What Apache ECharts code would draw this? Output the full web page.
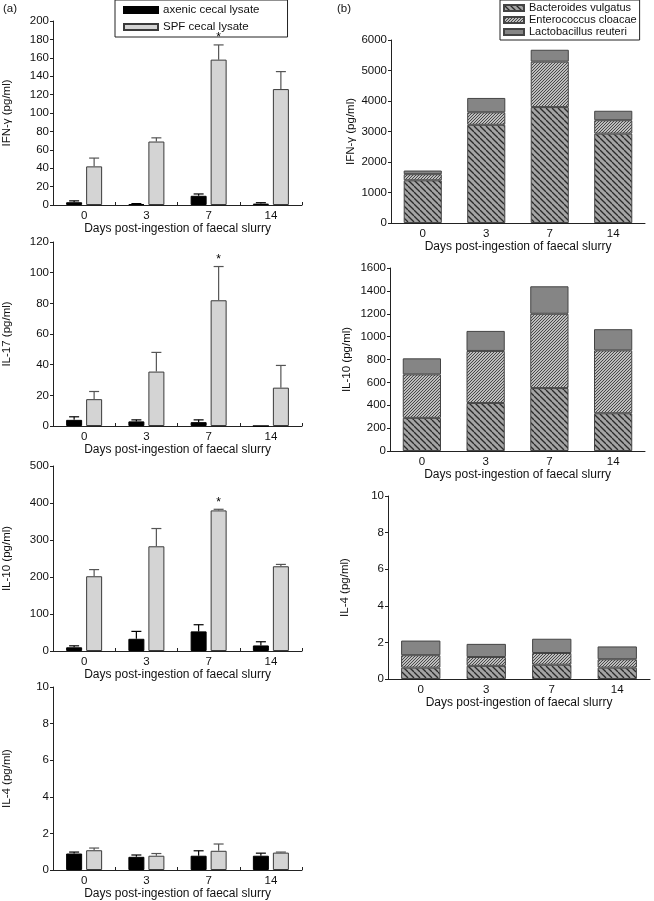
<!DOCTYPE html>
<html>
<head>
<meta charset="utf-8">
<script src="https://cdn.jsdelivr.net/npm/echarts@6/dist/echarts.min.js"></script>
<style>
  html, body { margin: 0; padding: 0; background: #fff; }
  #chart { width: 654px; height: 901px; }
</style>
</head>
<body>
<div id="chart"></div>
<script>
const days = ['0', '3', '7', '14'];
const xTitle = 'Days post-ingestion of faecal slurry';

// (a) group means and top of error bar
const ifnAxenic = [3, 1, 10, 1.5];
const ifnAxenicErr = [4.5, 1.5, 12, 2.5];
const ifnSpf = [42, 69, 158, 126];
const ifnSpfErr = [51, 73, 174, 145];
const il17Axenic = [4, 3, 2.5, 0];
const il17AxenicErr = [6, 4, 4, 0];
const il17Spf = [17.5, 35.5, 82, 25];
const il17SpfErr = [22.5, 48, 104, 39.5];
const il10Axenic = [10, 33, 53, 15];
const il10AxenicErr = [14, 53, 71, 25];
const il10Spf = [202, 283, 380, 229];
const il10SpfErr = [220, 331, 383, 234];
const il4Axenic = [0.9, 0.72, 0.78, 0.78];
const il4AxenicErr = [0.98, 0.82, 1.05, 0.92];
const il4Spf = [1.08, 0.78, 1.05, 0.95];
const il4SpfErr = [1.2, 0.9, 1.42, 0.98];
const starIfn = [0, 0, 1, 0];
const starIl17 = [0, 0, 1, 0];
const starIl10 = [0, 0, 1, 0];
const starIl4 = [0, 0, 0, 0];

// (b) stacked contributions
const bIfnBv = [1400, 3220, 3800, 2930];
const bIfnEc = [200, 410, 1490, 440];
const bIfnLr = [120, 470, 390, 310];
const bIl10Bv = [290, 420, 550, 330];
const bIl10Ec = [380, 455, 650, 550];
const bIl10Lr = [140, 175, 240, 185];
const bIl4Bv = [0.62, 0.72, 0.78, 0.62];
const bIl4Ec = [0.68, 0.48, 0.64, 0.46];
const bIl4Lr = [0.8, 0.72, 0.78, 0.7];

const FONT = 'Liberation Sans, Arial, sans-serif';

// hatch fills
function hatch(size, bg, fg, width, back) {
  const c = document.createElement('canvas');
  c.width = size; c.height = size;
  const g = c.getContext('2d');
  g.fillStyle = bg; g.fillRect(0, 0, size, size);
  g.strokeStyle = fg; g.lineWidth = width;
  for (let k = -size; k <= size; k += size) {
    g.beginPath();
    if (back) { g.moveTo(k, 0); g.lineTo(k + size, size); }
    else { g.moveTo(k, size); g.lineTo(k + size, 0); }
    g.stroke();
  }
  return { image: c, repeat: 'repeat' };
}
const fillBv = hatch(6, '#a4a4a4', '#2a2a2a', 1.3, true);
const fillEc = hatch(3, '#bdbdbd', '#3c3c3c', 0.9, false);
const fillLr = '#858585';

const chart = echarts.init(document.getElementById('chart'));

const grids = [
  { left: 50, top: 21, width: 252, height: 184 },
  { left: 50, top: 242, width: 252, height: 184 },
  { left: 50, top: 466, width: 252, height: 185 },
  { left: 50, top: 687, width: 252, height: 185 },
  { left: 391, top: 40, width: 254, height: 183 },
  { left: 390, top: 268, width: 255, height: 183 },
  { left: 388, top: 496, width: 262, height: 183 }
];
const yNames = ['IFN-\u03b3 (pg/ml)', 'IL-17 (pg/ml)', 'IL-10 (pg/ml)', 'IL-4 (pg/ml)',
  'IFN-\u03b3 (pg/ml)', 'IL-10 (pg/ml)', 'IL-4 (pg/ml)'];
const yMax = [200, 120, 500, 10, 6000, 1600, 10];
const yStep = [20, 20, 100, 2, 1000, 200, 2];
const yGap = [40, 40, 40, 40, 34, 37, 37];

const xAxes = grids.map((g, i) => ({
  type: 'category', gridIndex: i, data: days,
  name: xTitle, nameLocation: 'middle', nameGap: i < 4 ? 18 : 17,
  nameTextStyle: { fontFamily: FONT, fontSize: 12, color: '#111' },
  axisLine: { lineStyle: { color: '#222', width: 1 } },
  axisTick: { show: i < 4, inside: true, length: 3, lineStyle: { color: '#222' } },
  axisLabel: { fontFamily: FONT, fontSize: 11.5, color: '#111', margin: 5 }
}));
const yAxes = grids.map((g, i) => ({
  type: 'value', gridIndex: i, min: 0, max: yMax[i], interval: yStep[i],
  name: yNames[i], nameLocation: 'middle', nameRotate: 90, nameGap: yGap[i],
  nameTextStyle: { fontFamily: FONT, fontSize: 11.5, color: '#111' },
  axisLine: { show: true, lineStyle: { color: '#222', width: 1 } },
  axisTick: { show: true, length: 3, lineStyle: { color: '#222' } },
  axisLabel: { fontFamily: FONT, fontSize: 11.5, color: '#111', margin: 4, formatter: v => String(v) },
  splitLine: { show: false }
}));

function errRender(offset, color) {
  return function (params, api) {
    if (api.value(2) <= api.value(1)) return null;
    const base = api.coord([api.value(0), api.value(1)]);
    const top = api.coord([api.value(0), api.value(2)]);
    const x = base[0] + offset;
    const kids = [
      { type: 'line', shape: { x1: x, y1: base[1], x2: x, y2: top[1] }, style: { stroke: color, lineWidth: 1.2 } },
      { type: 'line', shape: { x1: x - 5, y1: top[1], x2: x + 5, y2: top[1] }, style: { stroke: color, lineWidth: 1.2 } }
    ];
    if (api.value(3)) {
      kids.push({ type: 'text', style: { text: '*', x: x, y: top[1] - 1, align: 'center', verticalAlign: 'bottom', fontSize: 12, fontFamily: FONT, fill: '#000' } });
    }
    return { type: 'group', children: kids };
  };
}

const series = [];
const aPanels = [
  [ifnAxenic, ifnAxenicErr, ifnSpf, ifnSpfErr, starIfn],
  [il17Axenic, il17AxenicErr, il17Spf, il17SpfErr, starIl17],
  [il10Axenic, il10AxenicErr, il10Spf, il10SpfErr, starIl10],
  [il4Axenic, il4AxenicErr, il4Spf, il4SpfErr, starIl4]
];
aPanels.forEach((p, i) => {
  series.push({
    name: 'axenic cecal lysate', type: 'bar', xAxisIndex: i, yAxisIndex: i,
    data: p[0], barWidth: 16, barGap: '25%',
    itemStyle: { color: '#000', borderColor: '#000', borderWidth: 1 }
  });
  series.push({
    name: 'SPF cecal lysate', type: 'bar', xAxisIndex: i, yAxisIndex: i,
    data: p[2], barWidth: 16, barGap: '25%',
    itemStyle: { color: '#d4d4d4', borderColor: '#3a3a3a', borderWidth: 1 }
  });
  series.push({
    type: 'custom', xAxisIndex: i, yAxisIndex: i, z: 3,
    renderItem: errRender(-10, '#000'),
    data: days.map((d, k) => [k, p[0][k], p[1][k], 0])
  });
  series.push({
    type: 'custom', xAxisIndex: i, yAxisIndex: i, z: 3,
    renderItem: errRender(10, '#555'),
    data: days.map((d, k) => [k, p[2][k], p[3][k], p[4][k]])
  });
});

const bPanels = [
  [bIfnBv, bIfnEc, bIfnLr],
  [bIl10Bv, bIl10Ec, bIl10Lr],
  [bIl4Bv, bIl4Ec, bIl4Lr]
];
const bNames = ['Bacteroides vulgatus', 'Enterococcus cloacae', 'Lactobacillus reuteri'];
const bFills = [fillBv, fillEc, fillLr];
bPanels.forEach((p, j) => {
  const i = j + 4;
  p.forEach((vals, s) => {
    series.push({
      name: bNames[s], type: 'bar', stack: 'b' + j, xAxisIndex: i, yAxisIndex: i,
      data: vals, barWidth: '60%',
      itemStyle: { color: bFills[s], borderColor: '#444', borderWidth: 1 }
    });
  });
});

chart.setOption({
  animation: false,
  backgroundColor: '#fff',
  textStyle: { fontFamily: FONT },
  grid: grids,
  xAxis: xAxes,
  yAxis: yAxes,
  legend: [
    {
      data: ['axenic cecal lysate', 'SPF cecal lysate'],
      orient: 'vertical', left: 115, top: 0, icon: 'rect',
      itemWidth: 34, itemHeight: 6, itemGap: 3,
      padding: [3, 28, 3, 8],
      borderColor: '#222', borderWidth: 1,
      textStyle: { fontFamily: FONT, fontSize: 11.5, color: '#111', lineHeight: 14 },
      selectedMode: false
    },
    {
      data: bNames,
      orient: 'vertical', left: 500, top: 0, icon: 'rect',
      itemWidth: 20, itemHeight: 6, itemGap: 0,
      padding: [2, 3, 2, 3],
      borderColor: '#222', borderWidth: 1,
      textStyle: { fontFamily: FONT, fontSize: 11, color: '#111', lineHeight: 12 },
      selectedMode: false
    }
  ],
  graphic: [
    { type: 'text', left: 3, top: 3, style: { text: '(a)', fontFamily: FONT, fontSize: 11.5, fill: '#111' } },
    { type: 'text', left: 337, top: 3, style: { text: '(b)', fontFamily: FONT, fontSize: 11.5, fill: '#111' } }
  ],
  series: series
});
</script>
</body>
</html>
